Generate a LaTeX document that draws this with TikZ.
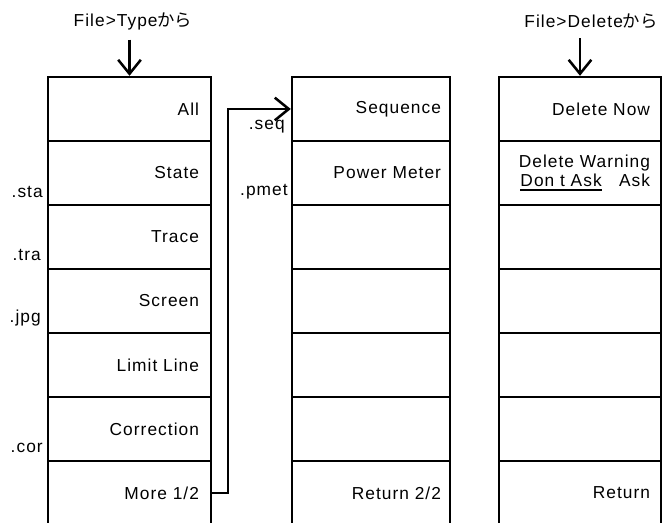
\documentclass[tikz,border=0pt]{standalone}
\usepackage{fontspec}
\setmainfont{Liberation Sans}[LetterSpace=6]
\newfontfamily\jpfont{Noto Sans CJK JP}
\usetikzlibrary{arrows.meta}
\newcommand{\ulbox}[1]{\leavevmode\setbox0\hbox{#1}\rlap{\rule[-3.6pt]{\wd0}{1.5pt}}\box0}

\begin{document}
\begin{tikzpicture}[x=0.75pt,y=0.75pt,yscale=-1,
  font=\fontsize{13pt}{14.5pt}\selectfont,
  cell/.style={draw, line width=1.8pt, minimum height=48pt, align=right},
  cellL/.style={cell, minimum width=122.25pt, text width=104.25pt, inner xsep=9pt},
  cellM/.style={cell, minimum width=118.5pt, text width=105pt, inner xsep=6.75pt},
  cellR/.style={cell, minimum width=121.5pt, text width=105pt, inner xsep=8.25pt},
  arr/.style={line width=1.9pt, -{Straight Barb[length=10.5pt, width=17pt, line width=1.9pt]}}]
\path [use as bounding box] (0,0) rectangle (666,523);
\clip (0,0) rectangle (666,523);

%Shape: Rectangle -- File > Type column
\node [cellL] (cL1) at (129.5,109) {All};
\node [cellL] (cL2) at (129.5,173) {State};
\node [cellL] (cL3) at (129.5,237) {Trace};
\node [cellL] (cL4) at (129.5,301) {Screen};
\node [cellL] (cL5) at (129.5,365) {Limit Line};
\node [cellL] (cL6) at (129.5,429) {Correction};
\node [cellL] (cL7) at (129.5,493) {More 1/2};
%Shape: Rectangle -- More 2/2 column
\node [cellM] (cM1) at (371,109) {Sequence};
\node [cellM] (cM2) at (371,173) {Power Meter};
\node [cellM] (cM3) at (371,237) {};
\node [cellM] (cM4) at (371,301) {};
\node [cellM] (cM5) at (371,365) {};
\node [cellM] (cM6) at (371,429) {};
\node [cellM] (cM7) at (371,493) {Return 2/2};
%Shape: Rectangle -- File > Delete column
\node [cellR] (cR1) at (580,109) {Delete Now};
\node [cellR] (cR2) at (580,173) {Delete Warning\\\ulbox{Don t Ask}\hspace{13pt}Ask};
\node [cellR] (cR3) at (580,237) {};
\node [cellR] (cR4) at (580,301) {};
\node [cellR] (cR5) at (580,365) {};
\node [cellR] (cR6) at (580,429) {};
\node [cellR] (cR7) at (580,493) {Return};

% Text Node
\node (ttype) at (133,21) {File>Type\jpfont から};
% Text Node
\node (tdel) at (591,21) {File>Delete\jpfont から};
% Text Node
\node [anchor=east, inner sep=0.75pt] (xsta) at (44,192) {.sta};
\node [anchor=east, inner sep=0.75pt] (xtra) at (42,255) {.tra};
\node [anchor=east, inner sep=0.75pt] (xjpg) at (42,318) {.jpg};
\node [anchor=east, inner sep=0.75pt] (xcor) at (44,448) {.cor};
\node [anchor=east, inner sep=0.75pt] (xseq) at (286,127) {.seq};
\node [anchor=east, inner sep=0.75pt] (xpmet) at (289,192) {.pmet};

%Straight Lines
\draw [arr, shorten <=4pt] (ttype.south -| cL1.north) -- (cL1.north);
%Straight Lines
\draw [arr, shorten <=4pt] (tdel.south -| cR1.north) -- (cR1.north);
%Straight Lines
\coordinate (bend) at (228,0);
\draw [arr] (cL7.east) -- (bend |- cL7.east) |- (cM1.west);

\end{tikzpicture}
\end{document}
